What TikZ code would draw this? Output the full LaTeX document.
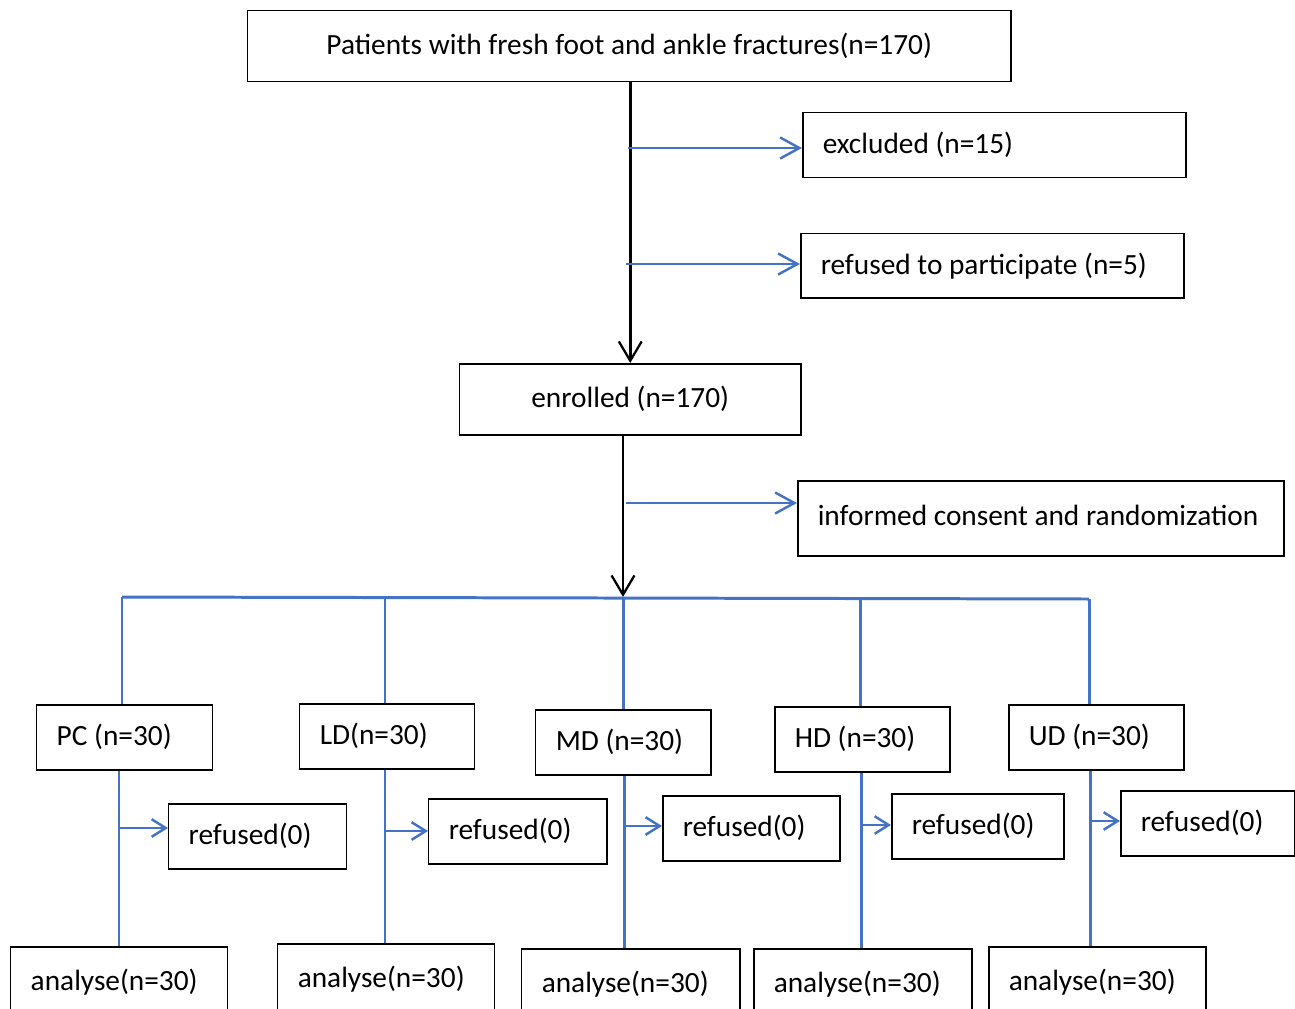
\documentclass[tikz,border=0pt]{standalone}
\usepackage{fontspec}
\setmainfont{Carlito}
\usetikzlibrary{arrows.meta}
\definecolor{lineblue}{HTML}{4472C4}
\tikzset{
  box/.style={draw=black, line width=0.85pt, inner sep=0pt, anchor=north west, font=\fontsize{16.7}{19}\selectfont},
  lbox/.style n args={2}{box, minimum width=#1*0.02cm, minimum height=#2*0.02cm, text width=(#1-40)*0.02cm, align=flush left},
  cbox/.style n args={2}{box, minimum width=#1*0.02cm, minimum height=#2*0.02cm, align=center},
  blk/.style={draw=black, line width=1.6pt, -{Straight Barb[length=11pt,width=13pt,line width=1.3pt]}},
  blu/.style={draw=lineblue, line width=1.7pt},
  bluarr/.style={blu, line width=1.4pt, -{Straight Barb[length=11pt,width=12pt]}},
  bluarrs/.style={blu, line width=1.4pt, -{Straight Barb[length=8pt,width=10pt]}},
}
\begin{document}
\begin{tikzpicture}[x=0.02cm, y=-0.02cm]
\clip (0,0) rectangle (1295,1008);
% main column
\node[cbox={763}{71}] (top) at (247,10) {Patients with fresh foot and ankle fractures(n=170)};
\node[lbox={383}{65}] (excl) at (802,112) {excluded (n=15)};
\node[lbox={383}{64}] (refp) at (800,233) {refused to participate (n=5)};
\node[cbox={341}{71}] (enr) at (459,363) {enrolled (n=170)};
\node[lbox={486}{75}] (cons) at (797,480) {\raisebox{3pt}{informed consent and randomization}};

\draw[blk] (top.south -| enr.north) -- (enr.north);
\coordinate (b1) at (628,148);
\coordinate (b2) at (626,264);
\draw[bluarr] (b1) -- (b1 -| excl.west);
\draw[bluarr] (b2) -- (b2 -| refp.west);

\coordinate (split) at (623,597);
\draw[blk] (enr.south -| split) -- (split);
\coordinate (b3) at (626,503);
\draw[bluarr] (b3) -- (b3 -| cons.west);

% groups
\node[lbox={176}{65}] (g1) at (36,704) {PC (n=30)};
\node[lbox={175}{65}] (g2) at (299,703) {LD(n=30)};
\node[lbox={175}{65}] (g3) at (535,709) {MD (n=30)};
\node[lbox={175}{65}] (g4) at (774,706) {HD (n=30)};
\node[lbox={175}{65}] (g5) at (1008,704) {UD (n=30)};

\coordinate (t1) at (122,597);
\coordinate (t2) at (385,597.5);
\coordinate (t3) at (623,598);
\coordinate (t4) at (860,598.5);
\coordinate (t5) at (1089,599);
\draw[blu] (t1) -- (t5);
\draw[blu] (t1) -- (t1 |- g1.north);
\draw[blu] (t2) -- (t2 |- g2.north);
\draw[blu] (t3) -- (t3 |- g3.north);
\draw[blu] (t4) -- (t4 |- g4.north);
\draw[blu] (t5) -- (t5 |- g5.north);

% refused boxes
\node[lbox={178}{65}] (r1) at (168,803) {refused(0)};
\node[lbox={178}{65}] (r2) at (428,798) {refused(0)};
\node[lbox={177}{65}] (r3) at (662,795) {refused(0)};
\node[lbox={172}{65}] (r4) at (891,793) {refused(0)};
\node[lbox={174}{65}] (r5) at (1120,790) {refused(0)};

% analyse boxes
\node[lbox={217}{70}] (a1) at (10,946) {analyse(n=30)};
\node[lbox={217}{70}] (a2) at (277,943) {analyse(n=30)};
\node[lbox={218}{70}] (a3) at (521,948) {analyse(n=30)};
\node[lbox={218}{70}] (a4) at (753,948) {analyse(n=30)};
\node[lbox={217}{70}] (a5) at (988,946) {analyse(n=30)};

\coordinate (v1) at (119,828);
\coordinate (v2) at (385,831);
\coordinate (v3) at (624,826);
\coordinate (v4) at (861,825);
\coordinate (v5) at (1090,821);
\draw[blu] (g1.south -| v1) -- (a1.north -| v1);
\draw[blu] (g2.south -| v2) -- (a2.north -| v2);
\draw[blu] (g3.south -| v3) -- (a3.north -| v3);
\draw[blu] (g4.south -| v4) -- (a4.north -| v4);
\draw[blu] (g5.south -| v5) -- (a5.north -| v5);
\draw[bluarrs] (v1) -- (v1 -| r1.west);
\draw[bluarrs] (v2) -- (v2 -| r2.west);
\draw[bluarrs] (v3) -- (v3 -| r3.west);
\draw[bluarrs] (v4) -- (v4 -| r4.west);
\draw[bluarrs] (v5) -- (v5 -| r5.west);
\end{tikzpicture}
\end{document}
